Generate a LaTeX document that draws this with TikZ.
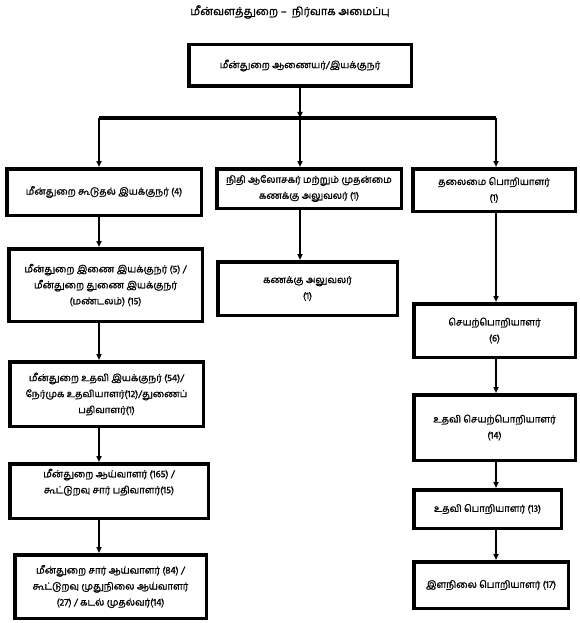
\documentclass[tikz,border=0pt]{standalone}
\usepackage{fontspec}
\newfontfamily\tamilfont[Script=Tamil, FakeBold=1.3]{Hind Madurai}
\usetikzlibrary{arrows.meta}

\begin{document}
\begin{tikzpicture}[x=1pt, y=-1pt,
        post/.style={draw, line width=3.5pt, align=center, inner sep=2pt,
                     font=\tamilfont\fontsize{9.6}{16}\selectfont},
        arrowline/.style={line width=1.8pt, -{Triangle[length=6pt, width=5pt]}}]
        \def \busy {118};

        \useasboundingbox (0,0) rectangle (579,623);

        % title
        \node[font=\tamilfont\fontsize{11}{13}\selectfont] (title) at (290,12) {மீன்வளத்துறை –\ \ நிர்வாக அமைப்பு};

        % head of the department
        \node[post, minimum width=222.5, minimum height=41.5] (top) at (300,65.5) {மீன்துறை ஆணையர்/இயக்குநர்};

        % left column
        \node[post, minimum width=194.5, minimum height=46.5] (l1) at (104,192) {மீன்துறை கூடுதல் இயக்குநர் (4)};
        \node[post, minimum width=193.5, minimum height=72.5] (l2) at (105.5,285) {மீன்துறை இணை இயக்குநர் (5) /\\மீன்துறை துணை இயக்குநர்\\(மண்டலம்) (15)};
        \node[post, minimum width=193.5, minimum height=64.5] (l3) at (106.5,394) {மீன்துறை உதவி இயக்குநர் (54)/\\நேர்முக உதவியாளர்(12)/துணைப்\\பதிவாளர்(1)};
        \node[post, minimum width=198.5, minimum height=54.5, text depth=20pt] (l4) at (109,491) {மீன்துறை ஆய்வாளர் (165) /\\கூட்டுறவு சார் பதிவாளர்(15)};
        \node[post, minimum width=191.5, minimum height=63.5] (l5) at (110.5,586.5) {மீன்துறை சார் ஆய்வாளர் (84) /\\கூட்டுறவு முதுநிலை ஆய்வாளர்\\(27) / கடல் முதல்வர்(14)};

        % middle column
        \node[post, minimum width=184.5, minimum height=39.5] (m1) at (309,188.5) {நிதி ஆலோசகர் மற்றும் முதன்மை\\கணக்கு அலுவலர் (1)};
        \node[post, minimum width=179.5, minimum height=53.5] (m2) at (307.5,288.5) {கணக்கு அலுவலர்\\(1)};

        % right column
        \node[post, minimum width=162.5, minimum height=42.5] (r1) at (494,190) {தலைமை பொறியாளர்\\(1)};
        \node[post, minimum width=161.5, minimum height=53.5] (r2) at (494.5,330.5) {செயற்பொறியாளர்\\(6)};
        \node[post, minimum width=161.5, minimum height=65.5] (r3) at (494.5,427.5) {உதவி செயற்பொறியாளர்\\(14)};
        \node[post, minimum width=147.5, minimum height=38.5] (r4) at (487.5,509) {உதவி பொறியாளர் (13)};
        \node[post, minimum width=154.5, minimum height=46.5] (r5) at (491,585) {இளநிலை பொறியாளர் (17)};

        % the bus under the head
        \coordinate (busl) at (99,\busy);
        \coordinate (busm) at (300,\busy);
        \coordinate (busr) at (496,\busy);
        \draw[line width=3pt] (busl) -- (busr);
        \draw[arrowline] (top) -- (busm);

        % drops from the bus
        \draw[arrowline] (busl) -- (busl |- l1.north);
        \draw[arrowline] (busm) -- (busm |- m1.north);
        \draw[arrowline] (busr) -- (busr |- r1.north);

        % arrows down each column
        \foreach \a/\b in {l1/l2, l2/l3, l3/l4, l4/l5} {
            \draw[arrowline] (\a.south -| busl) -- (\b.north -| busl);
        }
        \draw[arrowline] (m1.south -| busm) -- (m2.north -| busm);
        \foreach \a/\b in {r1/r2, r2/r3, r3/r4, r4/r5} {
            \draw[arrowline] (\a.south -| busr) -- (\b.north -| busr);
        }
    \end{tikzpicture}
\end{document}
